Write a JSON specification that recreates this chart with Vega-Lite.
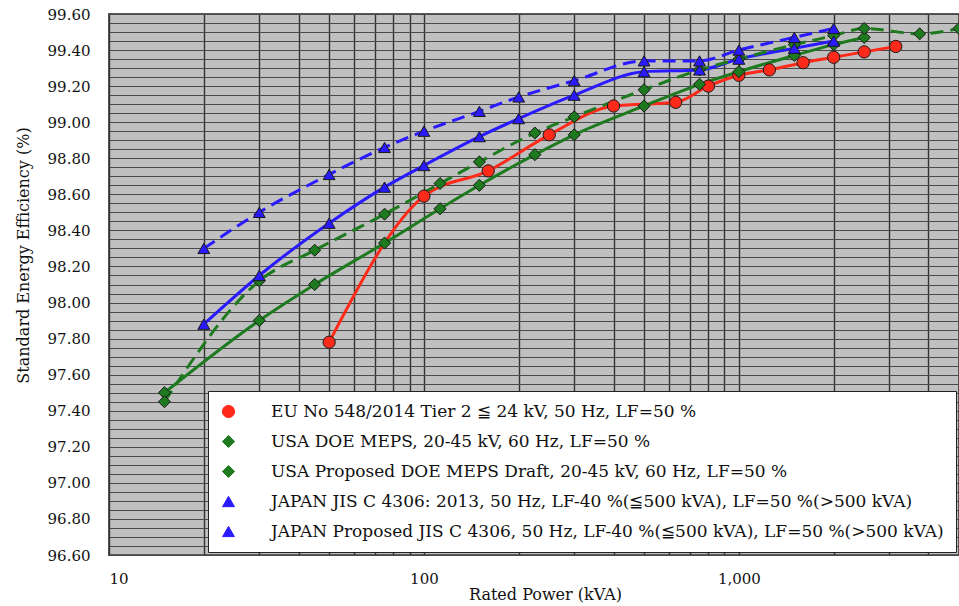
{
  "$schema": "https://vega.github.io/schema/vega-lite/v6.json",
  "autosize": "none",
  "padding": {"left": 109, "top": 14, "right": 0, "bottom": 51},
  "width": 850,
  "height": 541,
  "background": "white",
  "config": {
    "font": "DejaVu Serif",
    "view": {"fill": "#c0c0c0", "stroke": "#5a5a5a", "strokeWidth": 2}
  },
  "data": {
    "values": [
      {"series": "EU", "kva": 50, "eff": 97.78},
      {"series": "EU", "kva": 100, "eff": 98.59},
      {"series": "EU", "kva": 160, "eff": 98.73},
      {"series": "EU", "kva": 250, "eff": 98.93},
      {"series": "EU", "kva": 400, "eff": 99.09},
      {"series": "EU", "kva": 630, "eff": 99.11},
      {"series": "EU", "kva": 800, "eff": 99.20},
      {"series": "EU", "kva": 1000, "eff": 99.26},
      {"series": "EU", "kva": 1250, "eff": 99.29},
      {"series": "EU", "kva": 1600, "eff": 99.33},
      {"series": "EU", "kva": 2000, "eff": 99.36},
      {"series": "EU", "kva": 2500, "eff": 99.39},
      {"series": "EU", "kva": 3150, "eff": 99.42},
      {"series": "DOE", "kva": 15, "eff": 97.50},
      {"series": "DOE", "kva": 30, "eff": 97.90},
      {"series": "DOE", "kva": 45, "eff": 98.10},
      {"series": "DOE", "kva": 75, "eff": 98.33},
      {"series": "DOE", "kva": 112.5, "eff": 98.52},
      {"series": "DOE", "kva": 150, "eff": 98.65},
      {"series": "DOE", "kva": 225, "eff": 98.82},
      {"series": "DOE", "kva": 300, "eff": 98.93},
      {"series": "DOE", "kva": 500, "eff": 99.09},
      {"series": "DOE", "kva": 750, "eff": 99.21},
      {"series": "DOE", "kva": 1000, "eff": 99.28},
      {"series": "DOE", "kva": 1500, "eff": 99.37},
      {"series": "DOE", "kva": 2000, "eff": 99.43},
      {"series": "DOE", "kva": 2500, "eff": 99.47},
      {"series": "DOEP", "kva": 15, "eff": 97.45},
      {"series": "DOEP", "kva": 30, "eff": 98.12},
      {"series": "DOEP", "kva": 45, "eff": 98.29},
      {"series": "DOEP", "kva": 75, "eff": 98.49},
      {"series": "DOEP", "kva": 112.5, "eff": 98.66},
      {"series": "DOEP", "kva": 150, "eff": 98.78},
      {"series": "DOEP", "kva": 225, "eff": 98.94},
      {"series": "DOEP", "kva": 300, "eff": 99.03},
      {"series": "DOEP", "kva": 500, "eff": 99.18},
      {"series": "DOEP", "kva": 750, "eff": 99.29},
      {"series": "DOEP", "kva": 1000, "eff": 99.35},
      {"series": "DOEP", "kva": 1500, "eff": 99.43},
      {"series": "DOEP", "kva": 2000, "eff": 99.48},
      {"series": "DOEP", "kva": 2500, "eff": 99.52},
      {"series": "DOEP", "kva": 3750, "eff": 99.49},
      {"series": "DOEP", "kva": 5000, "eff": 99.52},
      {"series": "JIS", "kva": 20, "eff": 97.88},
      {"series": "JIS", "kva": 30, "eff": 98.15},
      {"series": "JIS", "kva": 50, "eff": 98.44},
      {"series": "JIS", "kva": 75, "eff": 98.64},
      {"series": "JIS", "kva": 100, "eff": 98.76},
      {"series": "JIS", "kva": 150, "eff": 98.92},
      {"series": "JIS", "kva": 200, "eff": 99.02},
      {"series": "JIS", "kva": 300, "eff": 99.15},
      {"series": "JIS", "kva": 500, "eff": 99.28},
      {"series": "JIS", "kva": 750, "eff": 99.29},
      {"series": "JIS", "kva": 1000, "eff": 99.35},
      {"series": "JIS", "kva": 1500, "eff": 99.41},
      {"series": "JIS", "kva": 2000, "eff": 99.45},
      {"series": "JISP", "kva": 20, "eff": 98.30},
      {"series": "JISP", "kva": 30, "eff": 98.50},
      {"series": "JISP", "kva": 50, "eff": 98.71},
      {"series": "JISP", "kva": 75, "eff": 98.86},
      {"series": "JISP", "kva": 100, "eff": 98.95},
      {"series": "JISP", "kva": 150, "eff": 99.06},
      {"series": "JISP", "kva": 200, "eff": 99.14},
      {"series": "JISP", "kva": 300, "eff": 99.23},
      {"series": "JISP", "kva": 500, "eff": 99.34},
      {"series": "JISP", "kva": 750, "eff": 99.34},
      {"series": "JISP", "kva": 1000, "eff": 99.40},
      {"series": "JISP", "kva": 1500, "eff": 99.47},
      {"series": "JISP", "kva": 2000, "eff": 99.52}
    ]
  },
  "encoding": {
    "x": {
      "field": "kva", "type": "quantitative",
      "scale": {"type": "log", "domain": [10, 5000], "nice": false},
      "axis": {
        "title": "Rated Power (kVA)",
        "values": [10,20,30,40,50,60,70,80,90,100,200,300,400,500,600,700,800,900,1000,2000,3000,4000,5000],
        "labelExpr": "datum.value == 10 ? '10' : datum.value == 100 ? '100' : datum.value == 1000 ? '1,000' : ''",
        "labelOverlap": false,
        "labelFontSize": 15, "labelColor": "#111", "labelPadding": 16,
        "titleFontSize": 16, "titleFontWeight": "normal", "titleColor": "#111", "titlePadding": 0, "titleX": 436,
        "ticks": false, "domain": false,
        "grid": true, "gridColor": "#333333", "gridWidth": 1.4, "gridOpacity": 1
      }
    },
    "y": {
      "field": "eff", "type": "quantitative",
      "scale": {"domain": [96.6, 99.6], "nice": false, "zero": false},
      "axis": {
        "title": "Standard Energy Efficiency (%)",
        "values": [96.6,96.65,96.7,96.75,96.8,96.85,96.9,96.95,97.0,97.05,97.1,97.15,97.2,97.25,97.3,97.35,97.4,97.45,97.5,97.55,97.6,97.65,97.7,97.75,97.8,97.85,97.9,97.95,98.0,98.05,98.1,98.15,98.2,98.25,98.3,98.35,98.4,98.45,98.5,98.55,98.6,98.65,98.7,98.75,98.8,98.85,98.9,98.95,99.0,99.05,99.1,99.15,99.2,99.25,99.3,99.35,99.4,99.45,99.5,99.55,99.6],
        "labelExpr": "round(datum.value * 100) % 20 == 0 ? format(datum.value, '.2f') : ''",
        "labelOverlap": false,
        "labelFontSize": 15, "labelColor": "#111", "labelPadding": 19,
        "titleFontSize": 16, "titleFontWeight": "normal", "titleColor": "#111", "titlePadding": 16, "titleY": 241,
        "ticks": false, "domain": false,
        "grid": true, "gridColor": "#4a4a4a", "gridWidth": 1.2, "gridOpacity": 1
      }
    }
  },
  "layer": [
    {
      "transform": [{"filter": {"field": "series", "oneOf": ["EU", "DOE", "JIS"]}}],
      "mark": {"type": "line", "interpolate": "monotone", "strokeWidth": 3},
      "encoding": {
        "color": {"field": "series", "type": "nominal",
          "scale": {"domain": ["EU", "DOE", "DOEP", "JIS", "JISP"], "range": ["#ff2a1a", "#1e7a1e", "#1e7a1e", "#2a1aff", "#2a1aff"]}},
        "detail": {"field": "series"}
      }
    },
    {
      "transform": [{"filter": {"field": "series", "oneOf": ["DOEP", "JISP"]}}],
      "mark": {"type": "line", "interpolate": "monotone", "strokeWidth": 3, "strokeDash": [13, 7]},
      "encoding": {
        "color": {"field": "series", "type": "nominal",
          "scale": {"domain": ["EU", "DOE", "DOEP", "JIS", "JISP"], "range": ["#ff2a1a", "#1e7a1e", "#1e7a1e", "#2a1aff", "#2a1aff"]}},
        "detail": {"field": "series"}
      }
    },
    {
      "mark": {"type": "point", "filled": true, "opacity": 1, "stroke": "#1a1a1a", "strokeWidth": 1},
      "encoding": {
        "color": {"field": "series", "type": "nominal",
          "scale": {"domain": ["EU", "DOE", "DOEP", "JIS", "JISP"], "range": ["#ff2a1a", "#1e7a1e", "#1e7a1e", "#2a1aff", "#2a1aff"]},
          "legend": {
            "title": null,
            "orient": "bottom-right",
            "offset": 3,
            "fillColor": "white",
            "strokeColor": "#222",
            "padding": 12,
            "symbolSize": 150,
            "symbolStrokeWidth": 1,
            "labelFont": "DejaVu Serif",
            "labelFontSize": 17,
            "labelColor": "#111",
            "labelLimit": 2000,
            "labelOffset": 34,
            "rowPadding": 12,
            "labelExpr": "datum.value == 'EU' ? 'EU No 548/2014 Tier 2 ≦ 24 kV, 50 Hz, LF=50 %' : datum.value == 'DOE' ? 'USA DOE MEPS, 20-45 kV, 60 Hz, LF=50 %' : datum.value == 'DOEP' ? 'USA Proposed DOE MEPS Draft, 20-45 kV, 60 Hz, LF=50 %' : datum.value == 'JIS' ? 'JAPAN JIS C 4306: 2013, 50 Hz, LF-40 %(≦500 kVA), LF=50 %(>500 kVA)' : 'JAPAN Proposed JIS C 4306, 50 Hz, LF-40 %(≦500 kVA), LF=50 %(>500 kVA)'"
          }},
        "shape": {"field": "series", "type": "nominal",
          "scale": {"domain": ["EU", "DOE", "DOEP", "JIS", "JISP"], "range": ["circle", "diamond", "diamond", "triangle-up", "triangle-up"]},
          "legend": null},
        "size": {"field": "series", "type": "nominal",
          "scale": {"domain": ["EU", "DOE", "DOEP", "JIS", "JISP"], "range": [150, 140, 140, 190, 190]},
          "legend": null}
      }
    }
  ]
}
